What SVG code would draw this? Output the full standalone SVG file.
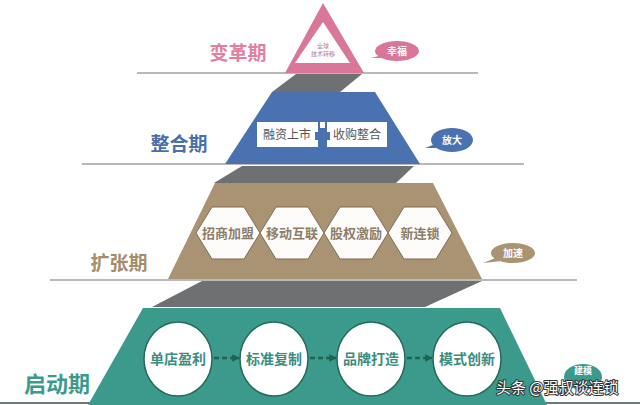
<svg xmlns="http://www.w3.org/2000/svg" width="640" height="405" viewBox="0 0 640 405">
<defs>
<style>
.cjk{font-family:"Noto Sans CJK SC","Noto Sans",sans-serif}
.stage{font-size:19px;font-weight:bold;text-anchor:middle}
.band{fill:#6f7072}
.line{stroke:#b9b9b9;stroke-width:2}
.bub{font-size:10px;font-weight:bold;fill:#fff;text-anchor:middle}
.hex{fill:#fdfcfa;stroke:#7d6d55;stroke-width:1}
.hext{font-size:13px;fill:#8c7e69;text-anchor:middle;font-weight:bold}
.circ{fill:#fff;stroke:#24695c;stroke-width:1.5}
.circt{font-size:14px;fill:#3d8c80;text-anchor:middle;font-weight:bold}
.arr{stroke:#1e6250;stroke-width:2.5;stroke-dasharray:5 3;fill:none}
</style>
<marker id="ah" viewBox="0 0 10 10" refX="9" refY="5" markerWidth="3" markerHeight="3" orient="auto">
<path d="M0,0 L10,5 L0,10 z" fill="#1e6250"/>
</marker>
</defs>
<rect width="640" height="405" fill="#ffffff"/>

<g id="lines">
<line class="line" x1="137" y1="73" x2="478" y2="73"/>
<line class="line" x1="82" y1="164" x2="524" y2="164"/>
<line class="line" x1="50" y1="280" x2="577" y2="280"/>
<line x1="0" y1="403" x2="640" y2="403" stroke="#6b7a78" stroke-width="2"/>
</g>

<g id="bands">
<polygon class="band" points="296,74 362,74 340,92 272,92"/>
<polygon class="band" points="242,166 414,166 396,183 214,183"/>
<polygon class="band" points="202,281 482,281 425,307 152,307"/>
</g>

<g id="stage-top">
<polygon points="323,3 364,73 285,73" fill="#d9779b"/>
<polygon points="323,22 350,63 295,63" fill="#ffffff"/>
<text class="cjk" x="323" y="48" font-size="6" fill="#b07a8f" text-anchor="middle">全球</text>
<text class="cjk" x="323" y="56" font-size="6" fill="#b07a8f" text-anchor="middle">技术转移</text>
<text class="cjk stage" x="238" y="60" fill="#e07fa1">变革期</text>
</g>
<g id="bubble-top">
<path d="M382,55 L371,58 L386,58 z" fill="#d9779b"/>
<ellipse cx="397" cy="51" rx="22" ry="10" fill="#d9779b"/>
<text class="cjk bub" x="397" y="55">幸福</text>
</g>

<g id="stage-merge">
<polygon points="272,92 375,92 420,164 225,164" fill="#4b72b0"/>
<rect x="257" y="122" width="130" height="25" fill="#ffffff"/>
<rect x="318" y="122" width="9" height="25" fill="#4b72b0"/>
<rect x="320" y="122" width="5" height="6" fill="#ffffff"/>
<rect x="315" y="132" width="15" height="8" fill="#4b72b0"/>
<text class="cjk" x="287" y="139" font-size="12" fill="#555555" text-anchor="middle">融资上市</text>
<text class="cjk" x="357" y="139" font-size="12" fill="#555555" text-anchor="middle">收购整合</text>
<text class="cjk stage" x="179" y="151" fill="#4a6fa6">整合期</text>
</g>
<g id="bubble-merge">
<path d="M438,143 L425,148 L442,148 z" fill="#4b72b0"/>
<ellipse cx="452" cy="140" rx="21" ry="12" fill="#4b72b0"/>
<text class="cjk bub" x="452" y="144">放大</text>
</g>

<g id="stage-expand">
<polygon points="215,183 433,183 482,279 168,279" fill="#a99372"/>
<g id="hex1"><polygon class="hex" points="196,233 212,207 244,207 260,233 244,259 212,259"/><text class="cjk hext" x="228" y="238">招商加盟</text></g>
<g id="hex2"><polygon class="hex" points="260,233 276,207 308,207 324,233 308,259 276,259"/><text class="cjk hext" x="292" y="238">移动互联</text></g>
<g id="hex3"><polygon class="hex" points="324,233 340,207 372,207 388,233 372,259 340,259"/><text class="cjk hext" x="356" y="238">股权激励</text></g>
<g id="hex4"><polygon class="hex" points="388,233 404,207 436,207 452,233 436,259 404,259"/><text class="cjk hext" x="420" y="238">新连锁</text></g>
<text class="cjk stage" x="119" y="270" fill="#a38d6a">扩张期</text>
</g>
<g id="bubble-expand">
<path d="M498,257 L483,263 L502,261 z" fill="#a99372"/>
<ellipse cx="513" cy="253" rx="22" ry="10" fill="#a99372"/>
<text class="cjk bub" x="513" y="257">加速</text>
</g>

<g id="stage-start">
<polygon points="143,308 500,308 547,405 88,405" fill="#3b9a8b"/>
<g id="c1"><ellipse class="circ" cx="178" cy="359" rx="34" ry="37"/><text class="cjk circt" x="178" y="364">单店盈利</text></g>
<g id="c2"><ellipse class="circ" cx="274" cy="359" rx="34" ry="37"/><text class="cjk circt" x="274" y="364">标准复制</text></g>
<g id="c3"><ellipse class="circ" cx="371" cy="359" rx="34" ry="37"/><text class="cjk circt" x="371" y="364">品牌打造</text></g>
<g id="c4"><ellipse class="circ" cx="467" cy="359" rx="34" ry="37"/><text class="cjk circt" x="467" y="364">模式创新</text></g>
<text class="cjk stage" x="57" y="392" fill="#3c9a8c" style="font-size:22px">启动期</text>
</g>
<g id="connectors">
<line class="arr" x1="214" y1="358" x2="239" y2="358" marker-end="url(#ah)"/>
<line class="arr" x1="310" y1="358" x2="336" y2="358" marker-end="url(#ah)"/>
<line class="arr" x1="407" y1="358" x2="432" y2="358" marker-end="url(#ah)"/>
</g>
<g id="bubble-start">
<ellipse cx="583" cy="377" rx="19" ry="13" fill="#3b9a8b"/>
<text class="cjk bub" x="583" y="374" style="font-size:9px">建模</text>
</g>
<g id="watermark">
<text class="cjk" x="496" y="393" font-size="15" fill="#ffffff" stroke="#333333" stroke-width="2" paint-order="stroke" stroke-linejoin="round">头条 @强叔谈连锁</text>
</g>
</svg>
